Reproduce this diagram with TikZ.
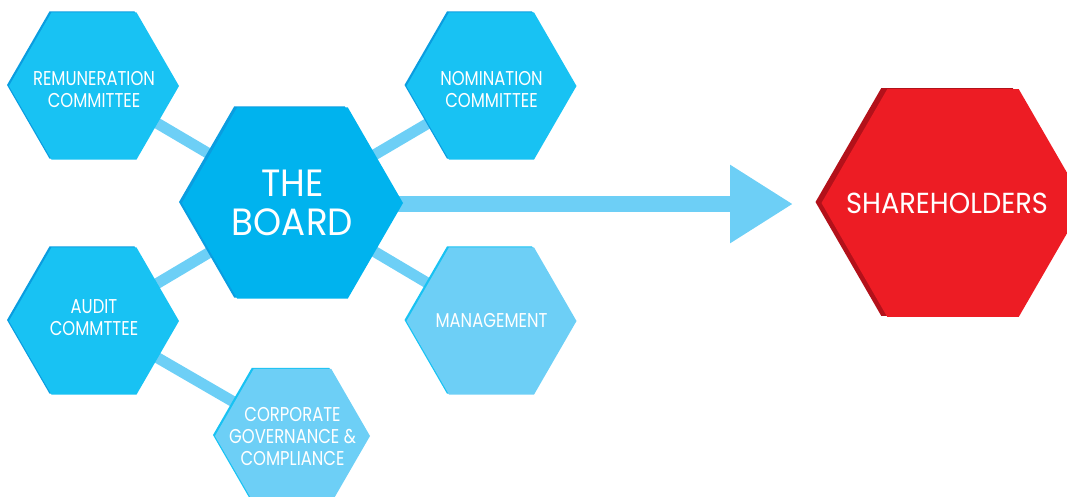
\documentclass[tikz,border=0pt]{standalone}
\usepackage{fontspec}
\setmainfont{Poppins}[FakeStretch=0.82]
\newfontfamily\widefont{Poppins}[FakeStretch=0.94]
\usetikzlibrary{shapes.geometric,shadows,backgrounds,arrows.meta}

\definecolor{boardblue}{HTML}{00B3EE}
\definecolor{cttblue}{HTML}{18C2F3}
\definecolor{lightblue}{HTML}{6DCFF6}
\definecolor{edgeblue}{HTML}{0A9DE0}
\definecolor{sharered}{HTML}{ED1C24}
\definecolor{edgered}{HTML}{B3111A}

\tikzset{
  hexbox/.style={regular polygon, regular polygon sides=6, inner sep=0pt,
    outer sep=0pt},
  hextext/.style={text=white, align=center, inner sep=0pt,
    font=\fontsize{20}{22}\selectfont},
  cttbox/.style 2 args={hexbox, fill=cttblue, minimum size=170pt,
    general shadow={fill=edgeblue, shadow xshift=-2pt, shadow yshift=1pt},
    label={[hextext, yshift=#2]center:#1}},
  lightbox/.style={hexbox, fill=lightblue,
    general shadow={fill=cttblue, shadow xshift=-2pt, shadow yshift=1pt},
    label={[hextext]center:#1}},
  link/.style={draw=lightblue, line width=11pt}
}

\begin{document}
\begin{tikzpicture}[x=1pt, y=-1pt]
\useasboundingbox (0,0) rectangle (1067,496);

% board and committees
\node[hexbox, fill=boardblue, minimum size=221pt,
  general shadow={fill=edgeblue, shadow xshift=-3pt, shadow yshift=1pt},
  label={[hextext, font=\widefont\fontsize{38}{39}\selectfont]center:THE\\BOARD}]
  (board) at (292.5,203) {};
\node[cttbox={REMUNERATION\\COMMITTEE}{-4pt}] (remun) at (94,86) {};
\node[cttbox={NOMINATION\\COMMITTEE}{-4pt}] (nomin) at (491.5,86) {};
\node[cttbox={AUDIT\\COMMTTEE}{3pt}] (audit) at (94,321) {};
\node[lightbox={MANAGEMENT}, minimum size=170pt] (mgmt) at (491.5,321) {};
\node[lightbox={CORPORATE\\GOVERNANCE \&\\COMPLIANCE}, minimum size=155pt]
  (corp) at (292.5,436) {};

% shareholders
\node[hexbox, fill=sharered, minimum size=263pt,
  general shadow={fill=edgered, shadow xshift=-6pt, shadow yshift=1pt},
  label={[hextext, xshift=-6pt,
    font=\widefont\fontsize{29}{30}\selectfont]center:SHAREHOLDERS}]
  (share) at (953,203) {};
\coordinate (tip) at (793,204);

\begin{scope}[on background layer]
  \draw[link] (board.center) -- (remun.center);
  \draw[link] (board.center) -- (nomin.center);
  \draw[link] (board.center) -- (audit.center);
  \draw[link] (board.center) -- (mgmt.center);
  \draw[link] (audit.center) -- (corp.center);
  \draw[draw=lightblue, line width=16pt,
    -{Triangle[length=63pt, width=74pt, fill=lightblue]}]
    (board.center |- tip) -- (tip);
\end{scope}
\end{tikzpicture}
\end{document}
